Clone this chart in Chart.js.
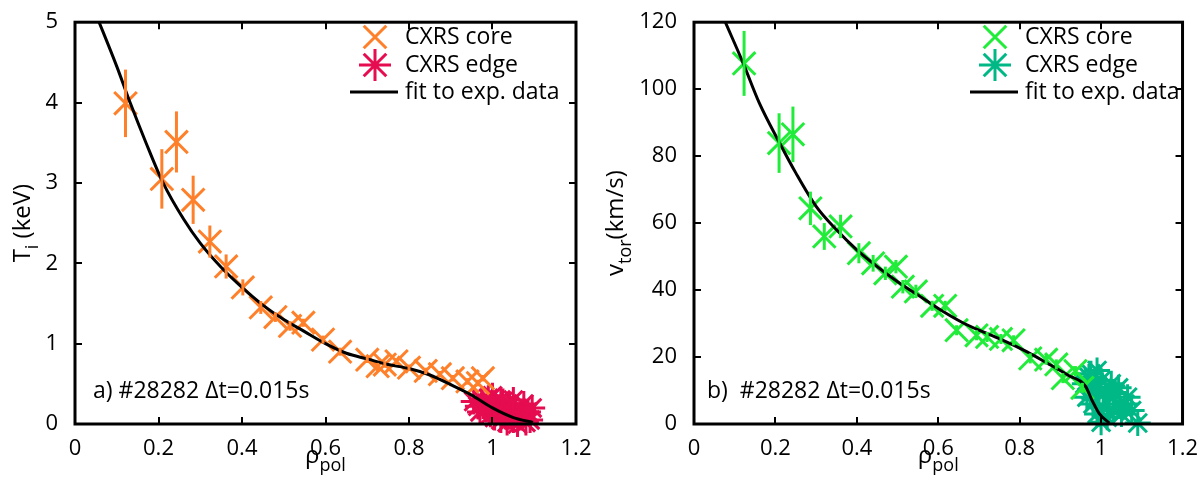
<!DOCTYPE html>
<html>
<head>
<meta charset="utf-8">
<script src="https://cdn.jsdelivr.net/npm/chart.js@4.4.1/dist/chart.umd.min.js"></script>
<style>
  body { margin: 0; background: #fff; }
  .box { position: absolute; top: 0; height: 481px; }
</style>
</head>
<body>
<div class="box" style="left:0;width:600px"><canvas id="tiChart" width="600" height="481"></canvas></div>
<div class="box" style="left:600px;width:602px"><canvas id="vChart" width="602" height="481"></canvas></div>
<script>
// ---- data: (a) ion temperature ----
var tiCoreRho = [0.121, 0.208, 0.243, 0.283, 0.323, 0.362, 0.402, 0.445, 0.48, 0.515, 0.547, 0.594, 0.635, 0.70, 0.725, 0.742, 0.77, 0.80, 0.84, 0.874, 0.905, 0.94, 0.965, 0.977];
var tiCore    = [3.99, 3.05, 3.51, 2.79, 2.27, 1.96, 1.70, 1.45, 1.33, 1.22, 1.26, 1.05, 0.90, 0.80, 0.72, 0.74, 0.78, 0.70, 0.66, 0.62, 0.57, 0.53, 0.51, 0.57];
var tiCoreErr = [0.42, 0.37, 0.38, 0.30, 0.20, 0.15, 0.10, 0.08, 0.06, 0.06, 0.05, 0.05, 0.05, 0.04, 0.04, 0.04, 0.04, 0.04, 0.04, 0.04, 0.04, 0.04, 0.04, 0.04];
var tiEdgeRho = [0.955, 0.965, 0.975, 0.985, 0.99, 0.995, 1.0, 1.005, 1.01, 1.015, 1.02, 1.025, 1.03, 1.035, 1.04, 1.045, 1.05, 1.055, 1.06, 1.065, 1.07, 1.075, 1.08, 1.085, 1.09, 1.095, 1.0, 0.97, 1.02, 1.05];
var tiEdge    = [0.28, 0.22, 0.30, 0.18, 0.32, 0.12, 0.25, 0.08, 0.20, 0.15, 0.05, 0.28, 0.12, 0.02, 0.22, 0.10, 0.05, 0.18, 0.00, 0.12, 0.08, 0.25, 0.02, 0.15, 0.05, 0.20, 0.35, 0.15, 0.30, 0.30];
var tiFitRho  = [0.05, 0.1, 0.132, 0.17, 0.211, 0.26, 0.3, 0.35, 0.4, 0.45, 0.5, 0.55, 0.6, 0.65, 0.7, 0.75, 0.8, 0.85, 0.9, 0.95, 1.0, 1.05, 1.097];
var tiFit     = [5.1, 4.45, 4.0, 3.5, 3.0, 2.55, 2.25, 1.95, 1.7, 1.48, 1.3, 1.15, 1.0, 0.88, 0.81, 0.74, 0.69, 0.61, 0.49, 0.36, 0.2, 0.08, 0.02];

// ---- data: (b) toroidal rotation ----
var vCoreRho = [0.123, 0.209, 0.243, 0.286, 0.32, 0.36, 0.405, 0.44, 0.47, 0.496, 0.513, 0.545, 0.585, 0.617, 0.645, 0.694, 0.72, 0.754, 0.785, 0.826, 0.865, 0.89, 0.906, 0.937, 0.954];
var vCore    = [107.7, 83.9, 86.5, 64.4, 56, 59, 51, 48, 45, 47, 41, 39.6, 35.3, 35.3, 28, 26.5, 26, 25.4, 25, 19.6, 19.2, 17.8, 13.7, 15.8, 10.8];
var vCoreErr = [9.7, 8.9, 8.3, 5, 4, 3.5, 3, 2.5, 2, 2, 2, 2, 1.5, 1.5, 1.5, 1.5, 1.5, 1.5, 1.5, 1.5, 1.5, 1.5, 1.5, 1.5, 1.5];
var vEdgeRho = [0.96, 0.965, 0.97, 0.975, 0.98, 0.985, 0.99, 0.995, 1.0, 1.0, 1.005, 1.01, 1.015, 1.02, 1.025, 1.03, 1.035, 1.043, 1.045, 1.05, 1.058, 1.065, 1.075, 1.09, 0.975, 0.99];
var vEdge    = [12, 8, 14, 10, 6, 11, 3, 9, 0.5, 13, 5, 10, 2, 8, 12, 4, 9, 10.8, 6, 3, 6, 8, 4, 0.3, 15, 16];
var vFitRho  = [0.077, 0.12, 0.16, 0.21, 0.25, 0.3, 0.35, 0.4, 0.45, 0.5, 0.55, 0.6, 0.658, 0.7, 0.75, 0.817, 0.87, 0.92, 0.961, 0.978, 0.995, 1.02];
var vFit     = [120, 108, 96, 84, 75, 65, 58, 52, 47, 42.5, 38.5, 34.5, 30.4, 28, 25.5, 21.6, 18, 14.5, 11.4, 7, 3.2, 0.3];

var FONT = '"Open Sans", "DejaVu Sans", sans-serif';

function pts(xs, ys) {
  return xs.map(function (x, i) { return { x: x, y: ys[i] }; });
}

function drawParts(ctx, parts, x, y, size) {
  // draw text pieces with optional subscript, centred on x
  var total = 0;
  parts.forEach(function (p) {
    ctx.font = (p[1] ? size * 0.75 : size) + 'px ' + FONT;
    total += ctx.measureText(p[0]).width;
  });
  var cx = x - total / 2;
  parts.forEach(function (p) {
    ctx.font = (p[1] ? size * 0.75 : size) + 'px ' + FONT;
    ctx.fillText(p[0], cx, p[1] ? y + size * 0.35 : y);
    cx += ctx.measureText(p[0]).width;
  });
}

// frame, inward ticks, error bars, legend and labels
var decor = {
  id: 'decor',
  afterDatasetsDraw: function (chart) {
    var ctx = chart.ctx, xs = chart.scales.x, ys = chart.scales.y;
    ctx.save();
    chart.data.datasets.forEach(function (ds, i) {
      if (!ds.errBars) return;
      ctx.strokeStyle = ds.borderColor;
      ctx.lineWidth = 3;
      ds.data.forEach(function (p, j) {
        var px = xs.getPixelForValue(p.x);
        ctx.beginPath();
        ctx.moveTo(px, ys.getPixelForValue(p.y - ds.errBars[j]));
        ctx.lineTo(px, ys.getPixelForValue(p.y + ds.errBars[j]));
        ctx.stroke();
      });
    });
    ctx.restore();
  },
  afterDraw: function (chart) {
    var ctx = chart.ctx, a = chart.chartArea, o = chart.options.plugins.decor;
    var xs = chart.scales.x, ys = chart.scales.y;
    ctx.save();
    ctx.strokeStyle = '#000';
    ctx.lineWidth = 2;
    xs.ticks.forEach(function (t) {
      var px = Math.round(xs.getPixelForValue(t.value));
      ctx.beginPath();
      ctx.moveTo(px, a.bottom); ctx.lineTo(px, a.bottom - 7);
      ctx.moveTo(px, a.top); ctx.lineTo(px, a.top + 7);
      ctx.stroke();
    });
    ys.ticks.forEach(function (t) {
      var py = Math.round(ys.getPixelForValue(t.value));
      ctx.beginPath();
      ctx.moveTo(a.left, py); ctx.lineTo(a.left + 7, py);
      ctx.moveTo(a.right, py); ctx.lineTo(a.right - 7, py);
      ctx.stroke();
    });
    ctx.lineWidth = 3;
    ctx.strokeRect(a.left, a.top, a.right - a.left, a.bottom - a.top);

    // legend
    ctx.fillStyle = '#000';
    ctx.textBaseline = 'middle';
    ctx.font = '23px ' + FONT;
    var L = o.legend;
    var rows = [37, 65, 92];
    ctx.strokeStyle = o.coreColor; ctx.lineWidth = 3;
    Chart.helpers.drawPoint(ctx, { pointStyle: 'crossRot', radius: 16, rotation: 0, borderWidth: 3 }, L.mx, rows[0]);
    ctx.strokeStyle = o.edgeColor;
    Chart.helpers.drawPoint(ctx, { pointStyle: 'star', radius: 16, rotation: 0, borderWidth: 3 }, L.mx, rows[1]);
    ctx.strokeStyle = '#000';
    ctx.beginPath(); ctx.moveTo(L.mx - 25, rows[2]); ctx.lineTo(L.mx + 23, rows[2]); ctx.stroke();
    ctx.fillText('CXRS core', L.tx, rows[0]);
    ctx.fillText('CXRS edge', L.tx, rows[1]);
    ctx.fillText('fit to exp. data', L.tx, rows[2]);

    // shot annotation
    ctx.textBaseline = 'alphabetic';
    ctx.font = '23px ' + FONT;
    ctx.fillText(o.note, o.noteX, 398);

    // axis titles
    drawParts(ctx, [['\u03c1', false], ['pol', true]], (a.left + a.right) / 2, 463, 24);
    ctx.translate(o.yTitleX, (a.top + a.bottom) / 2);
    ctx.rotate(-Math.PI / 2);
    drawParts(ctx, o.yTitle, 0, 0, 24);
    ctx.restore();
  }
};

function makeChart(id, cfg) {
  return new Chart(document.getElementById(id), {
    type: 'scatter',
    data: {
      datasets: [{
        type: 'line',
        data: pts(cfg.fitX, cfg.fitY),
        borderColor: '#000',
        borderWidth: 3,
        pointRadius: 0,
        cubicInterpolationMode: 'monotone',
        clip: 0
      }, {
        data: pts(cfg.coreX, cfg.coreY),
        errBars: cfg.coreErr,
        pointStyle: 'crossRot',
        pointRadius: 16,
        borderWidth: 3,
        borderColor: cfg.coreColor,
        backgroundColor: cfg.coreColor,
        clip: false
      }, {
        data: pts(cfg.edgeX, cfg.edgeY),
        pointStyle: 'star',
        pointRadius: 13,
        borderWidth: 3,
        borderColor: cfg.edgeColor,
        backgroundColor: cfg.edgeColor,
        clip: false
      }]
    },
    options: {
      responsive: false,
      animation: false,
      layout: { padding: { top: 12, right: cfg.padRight, left: 0, bottom: 0 } },
      plugins: {
        legend: { display: false },
        tooltip: { enabled: false },
        decor: {
          legend: cfg.legend,
          coreColor: cfg.coreColor,
          edgeColor: cfg.edgeColor,
          note: cfg.note,
          noteX: cfg.noteX,
          yTitle: cfg.yTitle,
          yTitleX: cfg.yTitleX
        }
      },
      scales: {
        x: {
          min: 0, max: 1.2,
          grid: { display: false },
          border: { display: false },
          ticks: {
            stepSize: 0.2, color: '#000', padding: 4, font: { family: FONT, size: 22 },
            callback: function (v) { return String(+v.toFixed(1)); }
          },
          afterFit: function (s) { s.height = 57; }
        },
        y: {
          min: 0, max: cfg.yMax,
          grid: { display: false },
          border: { display: false },
          ticks: { stepSize: cfg.yStep, color: '#000', padding: 9, font: { family: FONT, size: 22 } },
          afterFit: function (s) { s.width = cfg.yWidth; }
        }
      }
    },
    plugins: [decor]
  });
}

makeChart('tiChart', {
  fitX: tiFitRho, fitY: tiFit,
  coreX: tiCoreRho, coreY: tiCore, coreErr: tiCoreErr,
  edgeX: tiEdgeRho, edgeY: tiEdge,
  coreColor: 'rgb(255,128,42)', edgeColor: 'rgb(230,12,80)',
  yMax: 5, yStep: 1, yWidth: 75, padRight: 24,
  legend: { mx: 375, tx: 405 },
  note: 'a) #28282 \u0394t=0.015s', noteX: 93,
  yTitle: [['T', false], ['i', true], [' (keV)', false]], yTitleX: 30
});

makeChart('vChart', {
  fitX: vFitRho, fitY: vFit,
  coreX: vCoreRho, coreY: vCore, coreErr: vCoreErr,
  edgeX: vEdgeRho, edgeY: vEdge,
  coreColor: 'rgb(34,236,58)', edgeColor: 'rgb(0,184,134)',
  yMax: 120, yStep: 20, yWidth: 94, padRight: 10,
  legend: { mx: 395, tx: 425 },
  note: 'b)  #28282 \u0394t=0.015s', noteX: 107,
  yTitle: [['v', false], ['tor', true], ['(km/s)', false]], yTitleX: 23
});
</script>
</body>
</html>
